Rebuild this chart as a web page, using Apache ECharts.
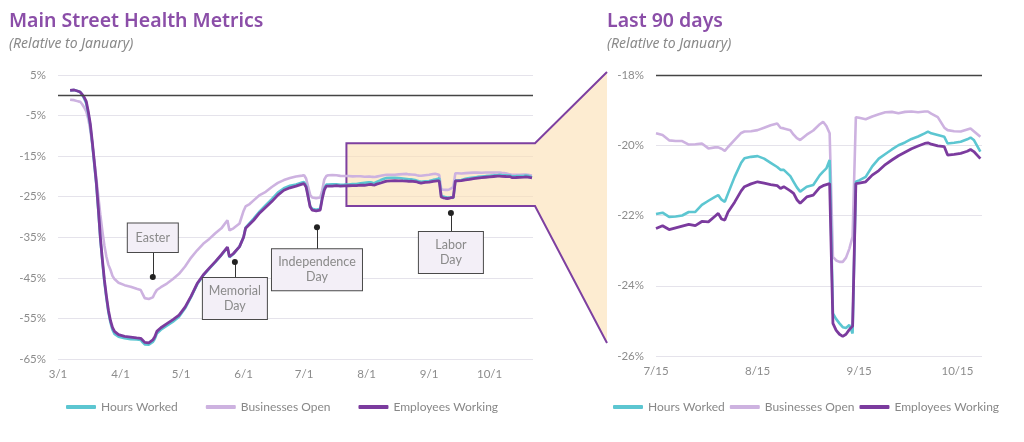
<!DOCTYPE html>
<html>
<head>
<meta charset="utf-8">
<script src="https://cdn.jsdelivr.net/npm/echarts@6/dist/echarts.min.js"></script>
<style>
  html, body { margin: 0; padding: 0; background: #fff; }
  #main { width: 1024px; height: 442px; }
</style>
</head>
<body>
<div id="main"></div>
<script>
// days counted from 3/1 (day 0)
var earlyDays = [6,8,10,11,12,13,14,15,16,17,18,19,20,21,22,23,24,25,26,27,28,30,33,36,39,41,42,43,45,47,48,49,51,54,57,60,63,66,69,72,75,78,81,84,85,87,90,92,93,95,97,100,103,106,109,112,115,118,121,122,123,124,125,126,128,130,131,132,133,134];
var earlyHours = [1.2,1.3,1.0,0.8,0.1,-0.8,-2.0,-4.5,-7.5,-12.0,
  -17.0,-22.0,-28.5,-35.5,-41.0,-46.0,-50.0,-53.5,-56.0,-57.8,
  -58.8,-59.5,-59.9,-60.1,-60.2,-60.3,-60.9,-61.4,-61.5,-60.8,
  -60.0,-58.7,-57.8,-56.8,-55.8,-54.6,-52.5,-49.7,-46.6,-44.4,
  -42.7,-41.1,-39.4,-37.5,-39.9,-39.1,-37.3,-35.0,-32.6,-31.5,
  -30.4,-28.6,-27.1,-25.6,-24.0,-22.9,-22.3,-22.0,-21.5,-21.4,
  -22.3,-24.8,-27.3,-28.0,-28.2,-28.0,-25.2,-23.0,-22.0,-22.0];
var earlyOpen = [-1.1,-1.2,-1.5,-1.6,-2.2,-3.0,-4.0,-5.8,-8.5,-12.0,
  -16.0,-20.5,-25.0,-29.5,-33.5,-37.0,-39.8,-41.8,-43.0,-44.5,
  -45.3,-46.2,-46.8,-47.2,-47.7,-48.0,-49.0,-50.0,-50.2,-49.8,
  -48.8,-48.0,-47.3,-46.4,-45.3,-44.0,-42.2,-40.0,-38.2,-36.6,
  -35.4,-34.0,-32.8,-30.8,-33.3,-32.8,-31.6,-28.5,-27.4,-26.8,
  -25.9,-24.6,-23.8,-22.6,-21.6,-20.9,-20.4,-20.0,-19.8,-19.7,
  -20.5,-22.5,-24.5,-25.2,-25.4,-25.2,-23.4,-20.8,-19.9,-19.7];
var earlyEmployees = [1.2,1.3,1.0,0.8,0.2,-0.5,-1.5,-4.0,-7.0,-11.5,
  -16.5,-21.5,-28.0,-35.0,-40.5,-45.5,-49.5,-53.0,-55.5,-57.2,
  -58.2,-59.0,-59.4,-59.6,-59.8,-59.9,-60.4,-60.9,-61.0,-60.3,
  -59.5,-58.2,-57.3,-56.3,-55.3,-54.2,-52.2,-49.5,-46.4,-44.3,
  -42.6,-41.0,-39.3,-37.4,-39.8,-39.0,-37.3,-35.0,-32.8,-31.8,
  -30.8,-29.0,-27.6,-26.2,-24.6,-23.4,-22.8,-22.4,-21.9,-21.8,
  -22.6,-25.0,-27.5,-28.3,-28.5,-28.3,-25.5,-23.4,-22.4,-22.4];

// last 90 days (7/15 = day 136)
var recentDays = [136,138,140,142,144,146,148,150,152,154,155,156,157,158,160,162,163,165,167,169,171,173,174,175,177,178,179,180,182,184,186,187,188,189,190,191,192,193,194,195,196,197,198,200,202,204,206,208,210,212,214,216,218,219,220,222,224,225,227,229,231,232,233,235];
var recentHours = [-21.96,-21.92,-22.04,-22.03,-22.00,-21.90,-21.90,-21.70,-21.58,-21.47,
  -21.42,-21.55,-21.61,-21.37,-20.90,-20.50,-20.37,-20.33,-20.31,-20.38,
  -20.50,-20.62,-20.70,-20.70,-20.88,-21.04,-21.20,-21.32,-21.18,-21.13,
  -20.85,-20.75,-20.66,-20.42,-24.79,-24.95,-25.07,-25.18,-25.20,-25.12,
  -25.36,-21.04,-21.00,-20.90,-20.60,-20.38,-20.25,-20.12,-20.00,-19.92,
  -19.82,-19.75,-19.66,-19.61,-19.66,-19.71,-19.76,-19.95,-19.93,-19.90,
  -19.83,-19.78,-19.85,-20.18];
var recentOpen = [-19.66,-19.71,-19.86,-19.88,-19.88,-19.98,-19.97,-19.95,-20.09,-20.06,
  -20.06,-20.10,-20.16,-20.05,-19.85,-19.65,-19.61,-19.60,-19.57,-19.50,
  -19.43,-19.38,-19.50,-19.52,-19.57,-19.70,-19.80,-19.85,-19.70,-19.58,
  -19.40,-19.33,-19.45,-19.66,-23.18,-23.28,-23.32,-23.32,-23.20,-22.95,
  -22.60,-19.20,-19.22,-19.26,-19.18,-19.12,-19.06,-19.05,-19.09,-19.05,
  -19.04,-19.06,-19.04,-19.04,-19.10,-19.20,-19.50,-19.57,-19.60,-19.61,
  -19.55,-19.52,-19.60,-19.76];
var recentEmployees = [-22.37,-22.29,-22.40,-22.35,-22.30,-22.25,-22.29,-22.17,-22.18,-22.02,
  -21.94,-22.10,-22.13,-21.90,-21.62,-21.30,-21.18,-21.10,-21.04,-21.08,
  -21.12,-21.15,-21.23,-21.18,-21.30,-21.37,-21.55,-21.65,-21.47,-21.42,
  -21.20,-21.15,-21.12,-21.09,-25.07,-25.27,-25.38,-25.44,-25.38,-25.25,
  -25.15,-21.09,-21.08,-21.04,-20.85,-20.72,-20.55,-20.42,-20.30,-20.20,
  -20.10,-20.02,-19.95,-19.93,-19.97,-20.02,-20.04,-20.28,-20.26,-20.23,
  -20.17,-20.12,-20.18,-20.38];

var leftTickDays = [0,31,61,92,122,153,184,214];
var leftTickLabels = ['3/1','4/1','5/1','6/1','7/1','8/1','9/1','10/1'];
var rightTickDays = [136,167,198,228];
var rightTickLabels = ['7/15','8/15','9/15','10/15'];

// holiday callouts: dot position and where the callout box edge sits
var holidayNames = ['Easter','Memorial\nDay','Independence\nDay','Labor\nDay'];
var holidayDays = [47, 87.7, 128.4, 194.8];
var holidayDots = [-44.8, -41.1, -32.5, -29.0];
var holidayBoxEdge = [-38.4, -45.1, -37.9, -33.7];

// zoomed window shown in the left chart
var zoomBox = {x0: 143, x1: 236.5, yTop: -11.8, yBottom: -27.3};

var seriesNames = ['Hours Worked','Businesses Open','Employees Working'];
var teal = '#5cc6d1', lilac = '#cdb2e0', plum = '#7b3b9e';
var font = 'Lato';
var titleFont = 'Noto Sans';

function pairs(days, vals){
  return days.map(function(d, i){ return [d, vals[i]]; });
}

var myChart = echarts.init(document.getElementById('main'));

var calloutPoints = holidayNames.map(function(n, i){
  var below = i > 0;
  var widths = [36, 50, 76, 50];
  var dist = [22, 13, 19, 16];
  return {
    coord: [holidayDays[i], holidayDots[i]],
    label: {
      show: true,
      formatter: n,
      position: below ? 'bottom' : 'top',
      distance: dist[i],
      width: widths[i],
      align: 'center',
      color: '#8a8a8a',
      fontFamily: font,
      fontSize: 12.5,
      lineHeight: 14.5,
      backgroundColor: '#f3eff7',
      borderColor: '#4a4a4a',
      borderWidth: 1,
      padding: below ? [6, 7] : [7, 7]
    }
  };
});
var calloutLines = holidayNames.map(function(n, i){
  return [{coord: [holidayDays[i], holidayDots[i]]}, {coord: [holidayDays[i], holidayBoxEdge[i]]}];
});

var axisLabelStyle = {color: '#8c8c8c', fontSize: 11.5, fontFamily: font};
var titleStyle = {color: '#8b4ea8', fontSize: 19.5, fontWeight: 600, fontFamily: titleFont};
var subStyle = {color: '#8a8a8a', fontSize: 14, fontStyle: 'italic', fontFamily: titleFont};

myChart.setOption({
  animation: false,
  title: [
    {text: 'Main Street Health Metrics', subtext: '(Relative to January)', left: 9, top: 11, itemGap: 6, padding: 0,
      textStyle: titleStyle, subtextStyle: subStyle},
    {text: 'Last 90 days', subtext: '(Relative to January)', left: 607, top: 11, itemGap: 6, padding: 0,
      textStyle: titleStyle, subtextStyle: subStyle}
  ],
  legend: [
    {data: seriesNames, left: 66, top: 401, icon: 'roundRect', itemWidth: 30, itemHeight: 4, itemGap: 28,
      padding: 0, textStyle: {color: '#888', fontSize: 12, fontFamily: font}},
    {data: seriesNames, left: 613, top: 401, icon: 'roundRect', itemWidth: 30, itemHeight: 4, itemGap: 5,
      padding: 0, textStyle: {color: '#888', fontSize: 12, fontFamily: font}}
  ],
  grid: [
    {left: 58, top: 75, right: 491, bottom: 83},
    {left: 656, top: 75, right: 42, bottom: 86}
  ],
  xAxis: [
    {type: 'value', gridIndex: 0, min: 0, max: 235.5,
      axisLine: {show: false}, axisTick: {show: false}, splitLine: {show: false},
      axisLabel: Object.assign({customValues: leftTickDays, margin: 9,
        formatter: function(v){ return leftTickLabels[leftTickDays.indexOf(v)]; }}, axisLabelStyle)},
    {type: 'value', gridIndex: 1, min: 136, max: 235.5,
      axisLine: {show: false}, axisTick: {show: false}, splitLine: {show: false},
      axisLabel: Object.assign({customValues: rightTickDays, margin: 9,
        formatter: function(v){ return rightTickLabels[rightTickDays.indexOf(v)]; }}, axisLabelStyle)}
  ],
  yAxis: [
    {type: 'value', gridIndex: 0, min: -65, max: 5, interval: 10,
      axisLine: {show: false}, axisTick: {show: false},
      splitLine: {lineStyle: {color: '#e5e3eb', width: 1}},
      axisLabel: Object.assign({margin: 12, formatter: '{value}%'}, axisLabelStyle)},
    {type: 'value', gridIndex: 1, min: -26, max: -18, interval: 2,
      axisLine: {show: false}, axisTick: {show: false},
      splitLine: {lineStyle: {color: '#e5e3eb', width: 1}},
      axisLabel: Object.assign({margin: 12, formatter: '{value}%'}, axisLabelStyle)}
  ],
  series: [
    {name: 'Businesses Open', type: 'line', xAxisIndex: 0, yAxisIndex: 0, showSymbol: false,
      data: pairs(earlyDays.concat(recentDays), earlyOpen.concat(recentOpen)),
      lineStyle: {color: lilac, width: 2.6}, itemStyle: {color: lilac}},
    {name: 'Hours Worked', type: 'line', xAxisIndex: 0, yAxisIndex: 0, showSymbol: false,
      data: pairs(earlyDays.concat(recentDays), earlyHours.concat(recentHours)),
      lineStyle: {color: teal, width: 2.6}, itemStyle: {color: teal}},
    {name: 'Employees Working', type: 'line', xAxisIndex: 0, yAxisIndex: 0, showSymbol: false,
      data: pairs(earlyDays.concat(recentDays), earlyEmployees.concat(recentEmployees)),
      lineStyle: {color: plum, width: 2.8}, itemStyle: {color: plum},
      markLine: {silent: true, symbol: ['none','none'], label: {show: false},
        lineStyle: {color: '#333', width: 1, type: 'solid'},
        data: [{yAxis: 0, lineStyle: {color: '#444', width: 1.4}}].concat(calloutLines)},
      markPoint: {silent: true, symbol: 'circle', symbolSize: 6, itemStyle: {color: '#222'},
        data: calloutPoints}},
    {name: 'Businesses Open', type: 'line', xAxisIndex: 1, yAxisIndex: 1, showSymbol: false,
      data: pairs(recentDays, recentOpen),
      lineStyle: {color: lilac, width: 2.6}, itemStyle: {color: lilac}},
    {name: 'Hours Worked', type: 'line', xAxisIndex: 1, yAxisIndex: 1, showSymbol: false,
      data: pairs(recentDays, recentHours),
      lineStyle: {color: teal, width: 2.6}, itemStyle: {color: teal}},
    {name: 'Employees Working', type: 'line', xAxisIndex: 1, yAxisIndex: 1, showSymbol: false,
      data: pairs(recentDays, recentEmployees),
      lineStyle: {color: plum, width: 2.8}, itemStyle: {color: plum},
      markLine: {silent: true, symbol: ['none','none'], label: {show: false},
        data: [{yAxis: -18, lineStyle: {color: '#444', width: 1.4, type: 'solid'}}]}}
  ]
});

// zoom box on the left chart plus the funnel that leads into the right chart
var tl = myChart.convertToPixel({gridIndex: 0}, [zoomBox.x0, zoomBox.yTop]);
var br = myChart.convertToPixel({gridIndex: 0}, [zoomBox.x1, zoomBox.yBottom]);
var rTop = myChart.convertToPixel({gridIndex: 1}, [136, -18]);
var rBot = myChart.convertToPixel({gridIndex: 1}, [136, -26]);
var fx = rTop[0] - 49, fyTop = rTop[1] - 3, fyBot = rBot[1] - 13;

myChart.setOption({
  graphic: [
    {type: 'polygon', z: 1, silent: true,
      shape: {points: [[tl[0], tl[1]], [br[0], tl[1]], [fx, fyTop], [fx, fyBot], [br[0], br[1]], [tl[0], br[1]]]},
      style: {fill: 'rgba(252,224,178,0.6)'}},
    {type: 'polyline', z: 1, silent: true,
      shape: {points: [[fx, fyTop], [br[0], tl[1]], [tl[0], tl[1]], [tl[0], br[1]], [br[0], br[1]], [fx, fyBot]]},
      style: {stroke: '#7e40a0', lineWidth: 2, fill: null}}
  ]
});
</script>
</body>
</html>
